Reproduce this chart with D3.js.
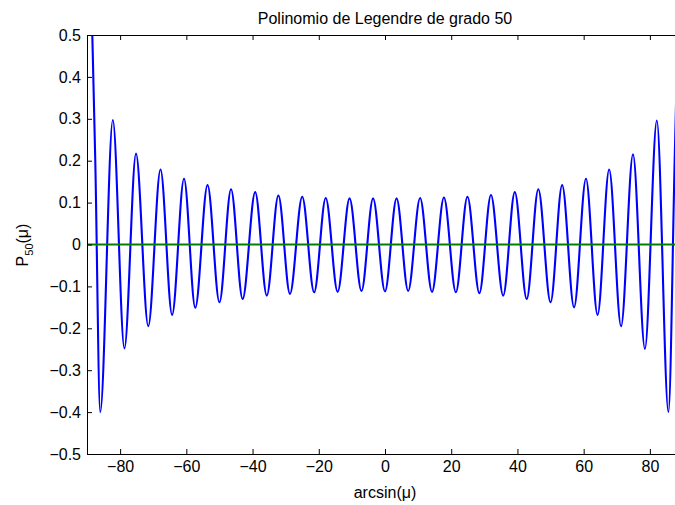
<!DOCTYPE html>
<html><head><meta charset="utf-8">
<script src="https://cdn.jsdelivr.net/npm/d3@7"></script>
<style>
body{margin:0;background:#fff}
text{font-family:"Liberation Sans",Arial,Helvetica,sans-serif}
</style>
</head><body>
<svg id="c" width="675" height="505"></svg>
<script>
// Values (extrema of the curve, plus where it leaves the axes)
const curveX = [-90, -88.4, -87.5,
  -86.0, -82.2, -78.7, -75.2, -71.5, -67.8, -64.3, -60.7, -57.3, -53.6, -50.0, -46.5, -43.0,
  -39.2, -35.7, -32.2, -28.7, -25.0, -21.4, -17.9, -14.3, -10.7, -7.1, -3.6,
  0,
  3.5, 7.0, 10.6, 14.2, 17.8, 21.4, 24.9, 28.5, 32.0, 35.7, 39.2, 42.8, 46.3, 50.0, 53.5,
  57.1, 60.7, 64.2, 67.7, 71.3, 74.9, 78.5, 82.1, 85.6,
  87.5, 88.4, 90];
const curveY = [1.0, 0.5, 0.2,
  -0.400, 0.297, -0.248, 0.217, -0.195, 0.179, -0.168, 0.157, -0.151, 0.142, -0.138, 0.132, -0.130,
  0.125, -0.122, 0.117, -0.118, 0.114, -0.114, 0.111, -0.113, 0.110, -0.111, 0.110,
  -0.112,
  0.110, -0.111, 0.111, -0.113, 0.112, -0.114, 0.114, -0.116, 0.118, -0.122, 0.125, -0.130, 0.132, -0.138, 0.142,
  -0.150, 0.157, -0.168, 0.179, -0.195, 0.215, -0.249, 0.296, -0.400,
  0.206, 0.5, 1.0];
const zeroX = [-90, 90];
const zeroY = [0, 0];
const xTicks = [-80, -60, -40, -20, 0, 20, 40, 60, 80];
const yTicks = [-0.5, -0.4, -0.3, -0.2, -0.1, 0, 0.1, 0.2, 0.3, 0.4, 0.5];
const titleText = "Polinomio de Legendre de grado 50";
const xLabelText = "arcsin(\u03bc)";

const svg = d3.select("#c");
const L = 87, T = 35, R = 683, B = 454;
const x = d3.scaleLinear().domain([-90, 90]).range([L, R]);
const y = d3.scaleLinear().domain([-0.5, 0.5]).range([B, T]);

svg.append("defs").append("clipPath").attr("id", "clip")
  .append("rect").attr("x", L).attr("y", T).attr("width", R - L).attr("height", B - T);

const line = d3.line().x(d => x(d[0])).y(d => y(d[1])).curve(d3.curveMonotoneX);
const g = svg.append("g").attr("clip-path", "url(#clip)");
g.append("path").datum(curveX.map((v, i) => [v, curveY[i]]))
  .attr("d", line).attr("fill", "none").attr("stroke", "#0000ff").attr("stroke-width", 2.1);
g.append("path").datum(zeroX.map((v, i) => [v, zeroY[i]]))
  .attr("d", d3.line().x(d => x(d[0])).y(d => y(d[1]))).attr("fill", "none")
  .attr("stroke", "#008000").attr("stroke-width", 2);

const fs = 16;
const fmtX = d3.format("d");
const fmtY = d => d === 0 ? "0" : d3.format(".1f")(d);
function style(sel) {
  sel.selectAll("path.domain").attr("stroke", "#000").attr("stroke-width", 1);
  sel.selectAll(".tick line").attr("stroke", "#000").attr("stroke-width", 1);
  sel.selectAll("text").attr("fill", "#000").style("font-size", fs + "px")
    .style("font-family", '"Liberation Sans",Arial,sans-serif');
}
svg.append("g").attr("transform", `translate(0,${B})`)
  .call(d3.axisBottom(x).tickValues(xTicks).tickFormat(fmtX).tickSizeInner(-5).tickSizeOuter(0).tickPadding(7))
  .call(style);
svg.append("g").attr("transform", `translate(0,${T})`)
  .call(d3.axisTop(x).tickValues(xTicks).tickFormat("").tickSizeInner(-5).tickSizeOuter(0))
  .call(style);
svg.append("g").attr("transform", `translate(${L},0)`)
  .call(d3.axisLeft(y).tickValues(yTicks).tickFormat(fmtY).tickSizeInner(-5).tickSizeOuter(0).tickPadding(6))
  .call(style);
svg.append("g").attr("transform", `translate(${R},0)`)
  .call(d3.axisRight(y).tickValues(yTicks).tickFormat("").tickSizeInner(-5).tickSizeOuter(0))
  .call(style);

svg.append("text").attr("x", (L + R) / 2).attr("y", 24).attr("text-anchor", "middle")
  .style("font-size", fs + "px").text(titleText);
svg.append("text").attr("x", (L + R) / 2).attr("y", 498).attr("text-anchor", "middle")
  .style("font-size", fs + "px").text(xLabelText);
const yl = svg.append("text").attr("transform", "translate(28,245) rotate(-90)")
  .attr("text-anchor", "middle").style("font-size", fs + "px");
yl.append("tspan").text("P");
yl.append("tspan").attr("dy", 5).style("font-size", "11px").text("50");
yl.append("tspan").attr("dy", -5).text("(\u03bc)");
</script>
</body></html>
